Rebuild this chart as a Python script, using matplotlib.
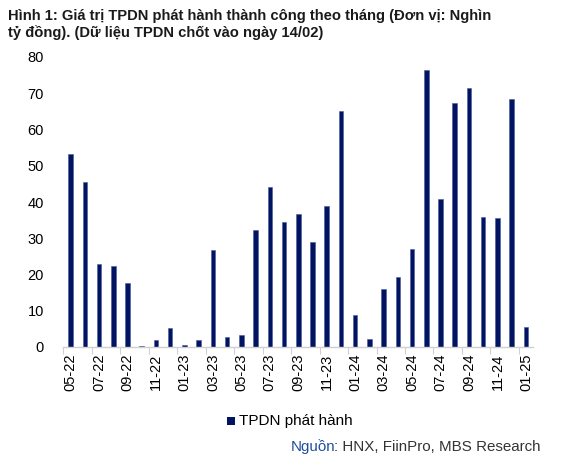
import matplotlib
matplotlib.use("Agg")
import matplotlib.pyplot as plt
from matplotlib.patches import Rectangle

plt.rcParams['font.family'] = ['Liberation Sans', 'DejaVu Sans']

months = ["05-22", "06-22", "07-22", "08-22", "09-22", "10-22", "11-22", "12-22",
          "01-23", "02-23", "03-23", "04-23", "05-23", "06-23", "07-23", "08-23",
          "09-23", "10-23", "11-23", "12-23", "01-24", "02-24", "03-24", "04-24",
          "05-24", "06-24", "07-24", "08-24", "09-24", "10-24", "11-24", "12-24",
          "01-25"]
values = [53.3, 45.6, 23.0, 22.3, 17.6, 0.3, 1.9, 5.2,
          0.5, 1.9, 26.7, 2.7, 3.2, 32.2, 44.2, 34.5,
          36.6, 29.1, 38.8, 65.1, 8.8, 2.1, 15.9, 19.2,
          27.0, 76.5, 40.7, 67.4, 71.4, 36.0, 35.6, 68.4,
          5.4]
yticks = [0, 10, 20, 30, 40, 50, 60, 70, 80]

bar_color = "#001462"

fig = plt.figure(figsize=(5.8, 4.63), dpi=100)
ax = fig.add_axes([63.5/580, 116/463, (533-63.5)/580, (347-57)/463])

x = list(range(len(months)))
ax.bar(x, values, width=0.32, color=bar_color, edgecolor="#4a5a9a", linewidth=0.4)

ax.set_xlim(-0.5, len(months) - 0.5)
ax.set_ylim(0, 80)
ax.set_yticks(yticks)
ax.set_yticklabels([str(v) for v in yticks], fontsize=10.5, color="black")
ax.tick_params(axis='y', length=0, pad=14)

# category labels every 2 months, centered on bars
ax.set_xticks(x[::2])
ax.set_xticklabels(months[::2], rotation=90, fontsize=10.5)
ax.tick_params(axis='x', length=0, pad=5)
# tick marks at category boundaries every 2 categories
ax.set_xticks([i - 0.5 for i in x[::2]], minor=True)
ax.tick_params(axis='x', which='minor', length=5, width=0.8, color="#d0d0d0")

for s in ['top', 'right', 'left']:
    ax.spines[s].set_visible(False)
ax.spines['bottom'].set_color("#d0d0d0")
ax.spines['bottom'].set_linewidth(1.0)

fig.text(8/580, 1 - 9/463, "Hình 1: Giá trị TPDN phát hành thành công theo tháng (Đơn vị: Nghìn\ntỷ đồng). (Dữ liệu TPDN chốt vào ngày 14/02)",
         fontsize=10.6, fontweight='bold', color="#1a1a1a", ha='left', va='top', linespacing=1.15)

# legend
fig.patches.append(Rectangle((227/580, 1 - 425/463), 8/580, 8/463, transform=fig.transFigure,
                             facecolor=bar_color, edgecolor='none'))
fig.text(239/580, 1 - 421/463, "TPDN phát hành", fontsize=11, ha='left', va='center', color="black")

# source: "Nguồn" in blue, rest in grey
src_head = "Nguồn"
src_rest = ": HNX, FiinPro, MBS Research"
probe = fig.text(0, 0, src_head + src_rest, fontsize=10.9, alpha=0)
probe_head = fig.text(0, 0, src_head, fontsize=10.9, alpha=0)
fig.canvas.draw()
total_w = probe.get_window_extent().width
head_w = probe_head.get_window_extent().width - 2
probe.remove()
probe_head.remove()
x_start = 542 - total_w
fig.text(x_start/580, 1 - 447/463, src_head, fontsize=10.9, ha='left', va='center', color="#1f4e9c")
fig.text((x_start + head_w)/580, 1 - 447/463, src_rest, fontsize=10.9, ha='left', va='center',
         color="#333333")

fig.savefig("out.png", dpi=100)
